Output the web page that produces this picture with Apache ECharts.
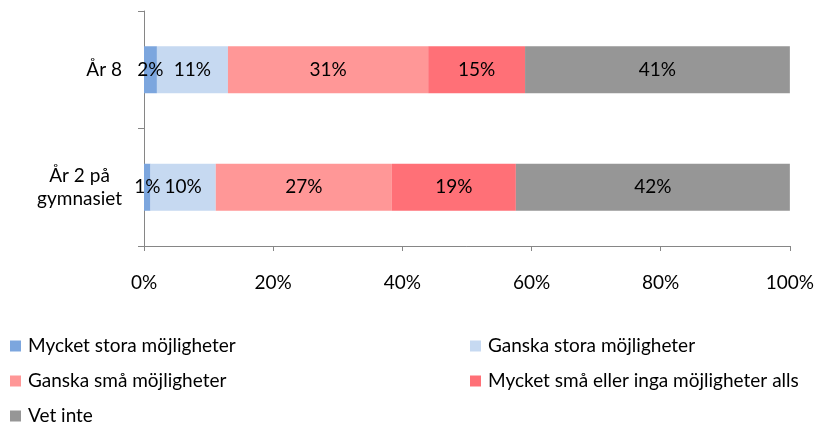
<!DOCTYPE html>
<html>
<head>
<meta charset="utf-8">
<script src="https://cdn.jsdelivr.net/npm/echarts@6/dist/echarts.min.js"></script>
<style>
  html, body { margin: 0; padding: 0; background: #fff; }
  #chart { width: 817px; height: 428px; }
</style>
</head>
<body>
<div id="chart"></div>
<script>
// Survey groups (top to bottom)
const categories = ['År 8', 'År 2 på\ngymnasiet'];

// Answer options, in stacking order
const seriesNames = [
  'Mycket stora möjligheter',
  'Ganska stora möjligheter',
  'Ganska små möjligheter',
  'Mycket små eller inga möjligheter alls',
  'Vet inte'
];

// Reported percentages per answer option, one value per group
const mycketStora = [2, 1];
const ganskaStora = [11, 10];
const ganskaSma = [31, 27];
const mycketSma = [15, 19];
const vetInte = [41, 42];

const xTicks = [0, 20, 40, 60, 80, 100];

const colors = ['#7CA6DE', '#C6D9F1', '#FF9797', '#FF7077', '#969696'];
const FONT = 'Lato, "Open Sans", sans-serif';
const FS = 19;

const rawValues = [mycketStora, ganskaStora, ganskaSma, mycketSma, vetInte];

// 100 % stacked: each bar is scaled by its row total
const rowTotals = categories.map((_, i) =>
  rawValues.reduce((s, arr) => s + arr[i], 0));

const series = seriesNames.map((name, k) => ({
  name,
  type: 'bar',
  stack: 'total',
  barWidth: 47,
  itemStyle: { color: colors[k] },
  data: rawValues[k].map((v, i) => v / rowTotals[i] * 100),
  label: {
    show: true,
    position: 'inside',
    color: '#000',
    fontFamily: FONT,
    fontSize: FS,
    formatter: p => rawValues[k][p.dataIndex] + '%'
  }
}));

// Legend laid out in two columns
const legendText = {
  fontFamily: FONT,
  fontSize: FS,
  color: '#000',
  lineHeight: 24,
  padding: [0, 0, 0, 2]
};
const legendBase = {
  orient: 'vertical',
  top: 334,
  padding: 0,
  itemWidth: 11,
  itemHeight: 11,
  itemGap: 11,
  icon: 'rect',
  textStyle: legendText
};

const chart = echarts.init(document.getElementById('chart'), null, { renderer: 'canvas' });
chart.setOption({
  animation: false,
  backgroundColor: '#fff',
  grid: { left: 144, right: 26, top: 11, bottom: 182, containLabel: false },
  xAxis: {
    type: 'value',
    min: xTicks[0],
    max: xTicks[xTicks.length - 1],
    interval: 20,
    axisLine: { show: true, lineStyle: { color: '#868686', width: 1 } },
    axisTick: { show: true, length: 5, lineStyle: { color: '#868686' } },
    splitLine: { show: false },
    axisLabel: {
      margin: 27,
      color: '#000',
      fontFamily: FONT,
      fontSize: FS,
      formatter: '{value}%'
    }
  },
  yAxis: {
    type: 'category',
    inverse: true,
    data: categories,
    axisLine: { show: true, lineStyle: { color: '#868686', width: 1 } },
    axisTick: { show: true, length: 6, lineStyle: { color: '#868686' } },
    axisLabel: {
      margin: 22,
      color: '#000',
      fontFamily: FONT,
      fontSize: FS,
      lineHeight: 23,
      align: 'right',
      formatter: v => v.split('\n').map(s => '{c|' + s + '}').join('\n'),
      rich: { c: { align: 'center', fontFamily: FONT, fontSize: FS, color: '#000', lineHeight: 23 } }
    }
  },
  legend: [
    Object.assign({}, legendBase, { left: 10, data: [seriesNames[0], seriesNames[2], seriesNames[4]] }),
    Object.assign({}, legendBase, { left: 470, data: [seriesNames[1], seriesNames[3]] })
  ],
  series
});
</script>
</body>
</html>
